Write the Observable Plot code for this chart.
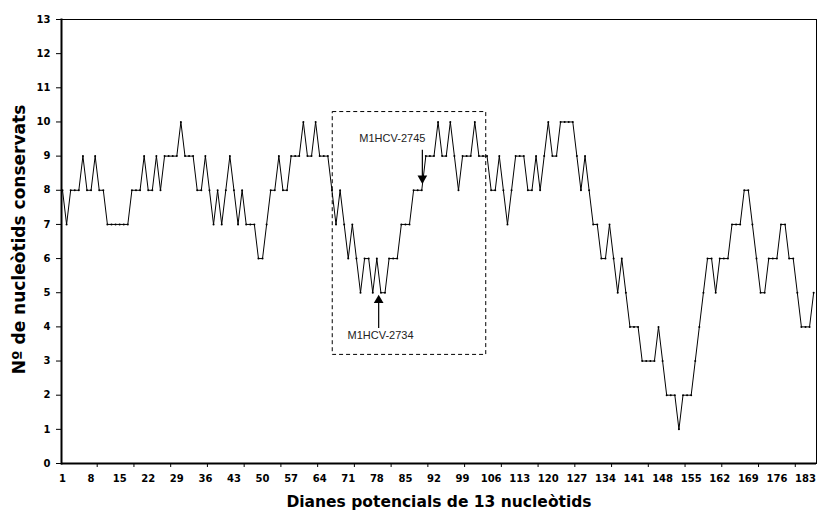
<!DOCTYPE html>
<html>
<head>
<meta charset="utf-8">
<script src="https://cdn.jsdelivr.net/npm/d3@7"></script>
<script src="https://cdn.jsdelivr.net/npm/@observablehq/plot@0.6"></script>
<style>
  html, body { margin: 0; padding: 0; background: #fff; }
</style>
</head>
<body>
<div id="chart"></div>
<script>
// Nº de nucleòtids conservats per diana potencial (1..185)
const conservats = [
  8,7,8,8,8,9,8,8,9,8,
  8,7,7,7,7,7,7,8,8,8,
  9,8,8,9,8,9,9,9,9,10,
  9,9,9,8,8,9,8,7,8,7,
  8,9,8,7,8,7,7,7,6,6,
  7,8,8,9,8,8,9,9,9,10,
  9,9,10,9,9,9,8,7,8,7,
  6,7,6,5,6,6,5,6,5,5,
  6,6,6,7,7,7,8,8,8,9,
  9,9,10,9,9,10,9,8,9,9,
  9,10,9,9,9,8,8,9,8,7,
  8,9,9,9,8,8,9,8,9,10,
  9,9,10,10,10,10,9,8,9,8,
  7,7,6,6,7,6,5,6,5,4,
  4,4,3,3,3,3,4,3,2,2,
  2,1,2,2,2,3,4,5,6,6,
  5,6,6,6,7,7,7,8,8,7,
  6,5,5,6,6,6,7,7,6,6,
  5,4,4,4,5
];
const xTickLabels = [1,8,15,22,29,36,43,50,57,64,71,78,85,92,99,106,113,120,127,134,141,148,155,162,169,176,183];
const yTickLabels = [0,1,2,3,4,5,6,7,8,9,10,11,12,13];
const xTitle = "Dianes potencials de 13 nucleòtids";
const yTitle = "Nº de nucleòtids conservats";

// Annotations (data coordinates)
const boxRegion = [{x1: 67.2, x2: 104.8, y1: 3.18, y2: 10.29}];
const arrowLabels = [
  {label: "M1HCV-2745", x: 81.8, y: 9.53},
  {label: "M1HCV-2734", x: 78.9, y: 3.76}
];
const arrows = [
  {x: 89.15, yTail: 9.17, yHead: 8.35, dir: "down"},
  {x: 78.45, yTail: 3.95, yHead: 4.78, dir: "up"}
];

const points = conservats.map((v, i) => ({diana: i + 1, n: v}));
const tickFont = "DejaVu Sans, Verdana, sans-serif";

const chart = Plot.plot({
  width: 817,
  height: 517,
  marginLeft: 61,
  marginRight: 1,
  marginTop: 19,
  marginBottom: 54,
  style: {background: "white", color: "black", fontFamily: tickFont, fontSize: "10px"},
  x: {type: "linear", domain: [0.755, 185.7]},
  y: {domain: [0, 13]},
  marks: [
    Plot.frame({stroke: "black", strokeWidth: 1}),
    Plot.axisY(yTickLabels, {tickSize: 5, tickPadding: 6, fontSize: 10, fontWeight: "bold", fontFamily: tickFont, label: null, stroke: "black"}),
    Plot.axisX(xTickLabels, {tickSize: 0, tickPadding: 11, fontSize: 10, fontWeight: "bold", fontFamily: tickFont, label: null}),
    Plot.axisX(d3.range(9.5, 185, 9), {tickSize: 4, tickFormat: () => "", label: null, stroke: "black"}),
    Plot.ruleY([0], {stroke: "black", strokeWidth: 2}),
    Plot.frame({anchor: "left", stroke: "black", strokeWidth: 2}),
    Plot.rect(boxRegion, {x1: "x1", x2: "x2", y1: "y1", y2: "y2", fill: "none", stroke: "black", strokeWidth: 1, strokeDasharray: "4,3"}),
    Plot.line(points, {x: "diana", y: "n", stroke: "black", strokeWidth: 1}),
    Plot.dot(points, {x: "diana", y: "n", r: 1, fill: "black", stroke: "none"}),
    Plot.ruleX(arrows, {x: "x", y1: "yTail", y2: "yHead", stroke: "black", strokeWidth: 1.2}),
    Plot.dot(arrows, {x: "x", y: "yHead", symbol: "triangle", r: 3.6, fill: "black", stroke: "none", rotate: d => d.dir === "down" ? 180 : 0}),
    Plot.text(arrowLabels, {x: "x", y: "y", text: "label", fontSize: 11, fontFamily: "Liberation Sans, Arial, sans-serif", fill: "#222"}),
    Plot.text([xTitle], {text: d => d, frameAnchor: "bottom", dy: 43, fontSize: 15.5, fontWeight: "bold", fontFamily: tickFont, fill: "black", textAnchor: "middle"}),
    Plot.text([yTitle], {text: d => d, frameAnchor: "left", dx: -42, dy: -2, rotate: -90, textAnchor: "middle", lineAnchor: "middle", fontSize: 17, fontWeight: "bold", fontFamily: tickFont, fill: "black"})
  ]
});
document.getElementById("chart").appendChild(chart);
</script>
</body>
</html>
